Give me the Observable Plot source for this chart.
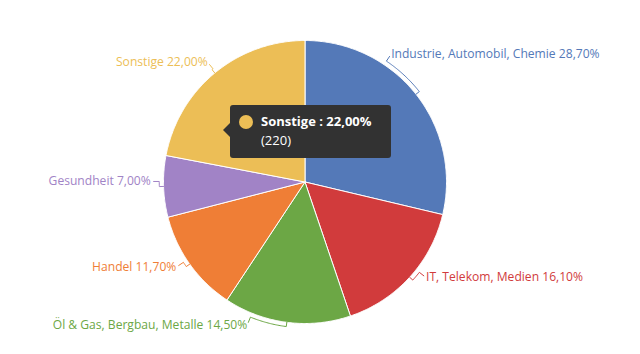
<!DOCTYPE html>
<html>
<head>
<meta charset="utf-8">
<script src="https://cdn.jsdelivr.net/npm/d3@7"></script>
<script src="https://cdn.jsdelivr.net/npm/@observablehq/plot@0.6"></script>
<style>
  html, body { margin: 0; padding: 0; background: #fff; }
  #wrap { position: relative; width: 640px; height: 354px; overflow: hidden; font-family: "Open Sans", sans-serif; }
  #tip { position: absolute; left: 230px; top: 105px; width: 161px; height: 53px; background: #323232; border-radius: 3px; color: #fff; font-size: 13px; box-sizing: border-box; }
  #tip:before { content: ""; position: absolute; left: -7px; top: 18px; border-top: 7px solid transparent; border-bottom: 7px solid transparent; border-right: 7px solid #323232; }
  #tip .dot { position: absolute; left: 9px; top: 10px; width: 14px; height: 14px; border-radius: 50%; }
  #tip .l1 { position: absolute; left: 31px; top: 7px; font-weight: bold; line-height: 18px; }
  #tip .l2 { position: absolute; left: 31px; top: 26px; line-height: 18px; }
</style>
</head>
<body>
<div id="wrap"></div>
<script>
const categories = ["Industrie, Automobil, Chemie", "IT, Telekom, Medien", "Öl & Gas, Bergbau, Metalle", "Handel", "Gesundheit", "Sonstige"];
const counts = [287, 161, 145, 117, 70, 220];
const colors = ["#5479b8", "#d13b3c", "#6ca745", "#ef7e36", "#a183c6", "#ecbe56"];
const highlighted = "Sonstige";

// layout constants (label angle nudges in degrees)
const labelShift = [-17.7, -4, 14.6, 2, 2, 0.5];
const W = 640, H = 354, CX = 304.5, CY = 181.5, R = 141.5;

const total = d3.sum(counts);
const fmt = v => (v / total * 100).toFixed(2).replace(".", ",") + "%";
const pie = d3.pie().sort(null).value(d => d)(counts);
const rad = deg => deg * Math.PI / 180;
const P = (a, r) => ({x: r * Math.sin(a), y: r * Math.cos(a)});

const marks = [];
pie.forEach((s, i) => {
  const pts = [P(0, 0)];
  const n = Math.max(2, Math.ceil((s.endAngle - s.startAngle) / rad(0.5)));
  for (let k = 0; k <= n; k++) pts.push(P(s.startAngle + (s.endAngle - s.startAngle) * k / n, 1));
  pts.push(P(0, 0));
  marks.push(Plot.line(pts, {x: "x", y: "y", fill: colors[i], stroke: "white", strokeWidth: 1, curve: "linear"}));
});

const labels = [];
pie.forEach((s, i) => {
  const m = (s.startAngle + s.endAngle) / 2;
  const a = m + rad(labelShift[i]);
  const pts = [P(m, 1.0), P(m, 1.03)];
  const n = Math.max(1, Math.ceil(Math.abs(a - m) / rad(0.5)));
  for (let k = 1; k <= n; k++) pts.push(P(m + (a - m) * k / n, 1.03));
  pts.push(P(a, 1.07));
  marks.push(Plot.line(pts, {x: "x", y: "y", stroke: colors[i], strokeWidth: 1}));
  const t = P(a, 1.09);
  labels.push({x: t.x, y: t.y, label: categories[i] + " " + fmt(counts[i]), color: colors[i], right: Math.sin(a) > 0});
});
marks.push(Plot.text(labels.filter(d => d.right), {x: "x", y: "y", text: "label", fill: "color", textAnchor: "start"}));
marks.push(Plot.text(labels.filter(d => !d.right), {x: "x", y: "y", text: "label", fill: "color", textAnchor: "end"}));

const chart = Plot.plot({
  width: W, height: H,
  margin: 0,
  style: {fontFamily: "Open Sans, sans-serif", fontSize: "12.1px", background: "white"},
  x: {domain: [-CX / R, (W - CX) / R], axis: null},
  y: {domain: [-(H - CY) / R, CY / R], axis: null},
  color: {type: "identity"},
  marks
});
const wrap = document.getElementById("wrap");
wrap.appendChild(chart);

const hi = categories.indexOf(highlighted);
const tip = document.createElement("div");
tip.id = "tip";
tip.innerHTML = `<div class="dot" style="background:${colors[hi]}"></div><div class="l1">${highlighted} : ${fmt(counts[hi])}</div><div class="l2">(${counts[hi]})</div>`;
wrap.appendChild(tip);
</script>
</body>
</html>
